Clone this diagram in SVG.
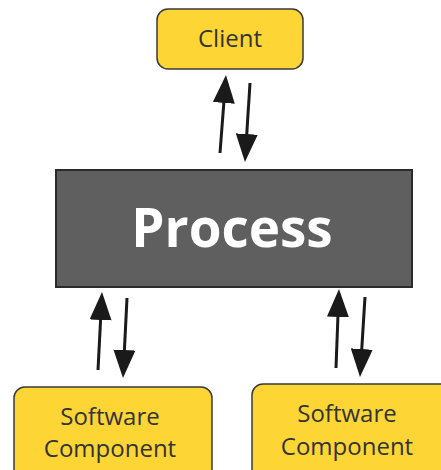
<svg xmlns="http://www.w3.org/2000/svg" width="441" height="470" viewBox="0 0 441 470">
  <style>
    .box { fill: #fdd535; stroke: #3a3a3a; stroke-width: 1.5; }
    .proc { fill: #5f5f5f; stroke: #2a2a2a; stroke-width: 2; }
    .lbl { font-family: "Open Sans", "Noto Sans", sans-serif; font-size: 24px; fill: #333333; text-anchor: middle; }
    .big { font-family: "Open Sans", "Noto Sans", sans-serif; font-size: 53px; font-weight: bold; fill: #ffffff; text-anchor: middle; }
    .arrow { stroke: #1a1a1a; stroke-width: 3; fill: none; marker-end: url(#head); }
  </style>
  <defs>
    <marker id="head" markerUnits="userSpaceOnUse" markerWidth="28" markerHeight="22" refX="18" refY="11" orient="auto">
      <path d="M0,0 L28,11 L0,22 z" fill="#1a1a1a"/>
    </marker>
  </defs>

  <!-- nodes -->
  <g id="client">
    <rect class="box" x="157" y="9" width="146" height="60" rx="11"/>
    <text class="lbl" x="230" y="47">Client</text>
  </g>
  <g id="process">
    <rect class="proc" x="56" y="170" width="356" height="117"/>
    <text class="big" x="232" y="247">Process</text>
  </g>
  <g id="component-left">
    <rect class="box" x="14" y="387" width="198" height="100" rx="11"/>
    <text class="lbl" x="110" y="425">Software</text>
    <text class="lbl" x="110" y="457">Component</text>
  </g>
  <g id="component-right">
    <rect class="box" x="252" y="384" width="210" height="100" rx="11"/>
    <text class="lbl" x="347" y="422">Software</text>
    <text class="lbl" x="347" y="455">Component</text>
  </g>

  <!-- connectors -->
  <g id="connectors">
    <line class="arrow" x1="220" y1="153" x2="225.2" y2="85"/>
    <line class="arrow" x1="250" y1="83" x2="245.6" y2="152"/>
    <line class="arrow" x1="98" y1="370" x2="101.5" y2="302"/>
    <line class="arrow" x1="127" y1="298" x2="123.5" y2="368"/>
    <line class="arrow" x1="336" y1="368" x2="338.6" y2="299"/>
    <line class="arrow" x1="365" y1="297" x2="360.6" y2="367"/>
  </g>
</svg>
